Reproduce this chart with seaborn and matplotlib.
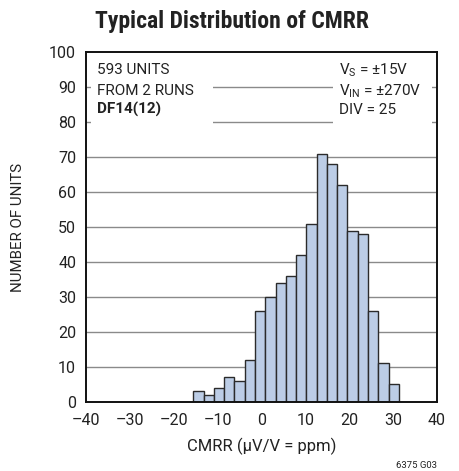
import numpy as np
import pandas as pd
import matplotlib
matplotlib.use("Agg")
import matplotlib.pyplot as plt
from matplotlib.patches import Rectangle
import seaborn as sns

# histogram (20 bins, ~2.34 ppm wide)
bin_start = -15.5
bin_width = 2.34
counts = [3, 2, 4, 7, 6, 12, 26, 30, 34, 36, 42, 51, 71, 68, 62, 49, 48, 26, 11, 5]
x_ticks = [-40, -30, -20, -10, 0, 10, 20, 30, 40]
y_ticks = [0, 10, 20, 30, 40, 50, 60, 70, 80, 90, 100]

edges = [bin_start + bin_width * i for i in range(len(counts) + 1)]
centers = [(a + b) / 2 for a, b in zip(edges[:-1], edges[1:])]
df = pd.DataFrame({"cmrr": centers, "units": counts})

sns.set_theme(style="white")
plt.rcParams["font.family"] = ["Roboto", "Liberation Sans", "DejaVu Sans"]
title_font = ["Roboto Condensed", "Roboto", "DejaVu Sans"]

fig = plt.figure(figsize=(4.59, 4.71), dpi=100)
ax = fig.add_axes([0.187, 0.147, 0.765, 0.742])

for y in y_ticks[1:-1]:
    ax.axhline(y, color="#8a8a8a", lw=1.0, zorder=0)

# white panels behind the annotation blocks (leave stubs at the frame)
ax.add_patch(Rectangle((-38.9, 78.3), 27.8, 21.7, facecolor="white", edgecolor="none", zorder=1))
ax.add_patch(Rectangle((16.3, 78.3), 22.6, 21.7, facecolor="white", edgecolor="none", zorder=1))

sns.histplot(data=df, x="cmrr", weights="units", bins=edges, ax=ax,
             color="#bccde6", edgecolor="#2b2b2b", linewidth=1.0, alpha=1.0,
             zorder=2)

ax.set_xlim(-40, 40)
ax.set_ylim(0, 100)
ax.set_xticks(x_ticks)
ax.set_yticks(y_ticks)
ax.set_xticklabels([str(t).replace("-", "\u2013") for t in x_ticks])
ax.tick_params(axis="x", length=0, labelsize=11.5, colors="#222222", pad=8)
ax.tick_params(axis="y", length=0, labelsize=11.5, colors="#222222", pad=7)
for s in ax.spines.values():
    s.set_color("#111111")
    s.set_linewidth(1.4)

ax.set_xlabel("CMRR (\u03bcV/V = ppm)", fontsize=12, color="#222222")
ax.set_ylabel("NUMBER OF UNITS", fontsize=10.8, color="#222222")
ax.xaxis.set_label_coords(0.5, -0.104)
ax.yaxis.set_label_coords(-0.172, 0.5)

kw = dict(fontsize=11, va="center", color="#222222", zorder=3)
ax.text(-37.4, 94.8, "593 UNITS", ha="left", **kw)
ax.text(-37.4, 89.0, "FROM 2 RUNS", ha="left", **kw)
ax.text(-37.4, 83.6, "DF14(12)", ha="left", fontweight="bold", **kw)
ax.text(17.6, 94.8, "V$_\\mathregular{S}$ = \u00b115V", ha="left", **kw)
ax.text(17.6, 89.0, "V$_\\mathregular{IN}$ = \u00b1270V", ha="left", **kw)
ax.text(17.6, 83.6, "DIV = 25", ha="left", **kw)

fig.text(0.505, 0.955, "Typical Distribution of CMRR", fontsize=17, fontweight="bold",
         ha="center", va="center", color="#222222", family=title_font)
fig.text(0.952, 0.003, "6375 G03", fontsize=6.8, ha="right", va="bottom", color="#222222")

fig.savefig("out.png", dpi=100)
